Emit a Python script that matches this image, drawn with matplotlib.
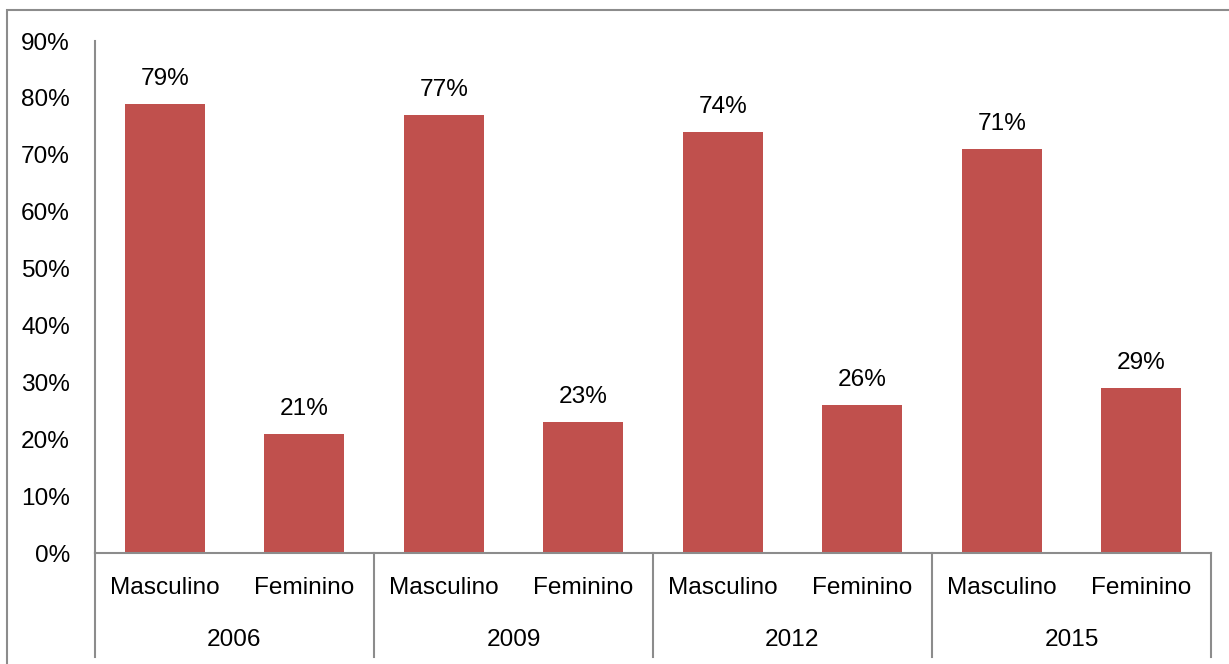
import matplotlib.pyplot as plt
from matplotlib.patches import Rectangle

years = ['2006', '2009', '2012', '2015']
sexos = ['Masculino', 'Feminino']
valores = [79, 21, 77, 23, 74, 26, 71, 29]

W, H = 1229, 664
fig = plt.figure(figsize=(W / 100, H / 100), dpi=100)
plt.rcParams['font.family'] = ['Liberation Sans', 'DejaVu Sans']

# plot area in pixels
x0, x1 = 95, 1211
y_top, y_bot = 41, 553
ax = fig.add_axes([x0 / W, (H - y_bot) / H, (x1 - x0) / W, (y_bot - y_top) / H])

cor = '#C0504D'
grey = '#8C8C8C'
fs = 17.6

n = len(valores)
xs = list(range(n))
ax.bar(xs, [v / 100 for v in valores], width=0.57, color=cor, edgecolor='none')
for x, v in zip(xs, valores):
    ax.text(x, v / 100 + 0.044, f'{v}%', ha='center', va='center', fontsize=fs)

ax.set_xlim(-0.5, n - 0.5)
ax.set_ylim(0, 0.9)
ax.set_yticks([i / 10 for i in range(10)])
ax.set_yticklabels([f'{i * 10}%' for i in range(10)], fontsize=fs)
ax.tick_params(axis='y', length=0, pad=18)
ax.set_xticks([])

for s in ['top', 'right']:
    ax.spines[s].set_visible(False)
for s in ['left', 'bottom']:
    ax.spines[s].set_color(grey)
    ax.spines[s].set_linewidth(1.5)

# two-level category axis
depth = (657 - y_bot) / (y_bot - y_top)
tr = ax.get_xaxis_transform()
for g in range(len(years) + 1):
    xb = g * 2 - 0.5
    ax.plot([xb, xb], [0, -depth], color=grey, lw=1.5, transform=tr, clip_on=False)
row1 = -(588 - y_bot) / (y_bot - y_top)
row2 = -(640 - y_bot) / (y_bot - y_top)
for i in range(n):
    ax.text(i, row1, sexos[i % 2], transform=tr, ha='center', va='center', fontsize=fs)
for g, y in enumerate(years):
    ax.text(g * 2 + 0.5, row2, y, transform=tr, ha='center', va='center', fontsize=fs)

# chart border
fig.patches.append(Rectangle((7 / W, -0.1), 1.2, (H - 10) / H + 0.1,
                             transform=fig.transFigure, fill=False,
                             edgecolor=grey, lw=1.5))

fig.savefig('out.png', dpi=100)
